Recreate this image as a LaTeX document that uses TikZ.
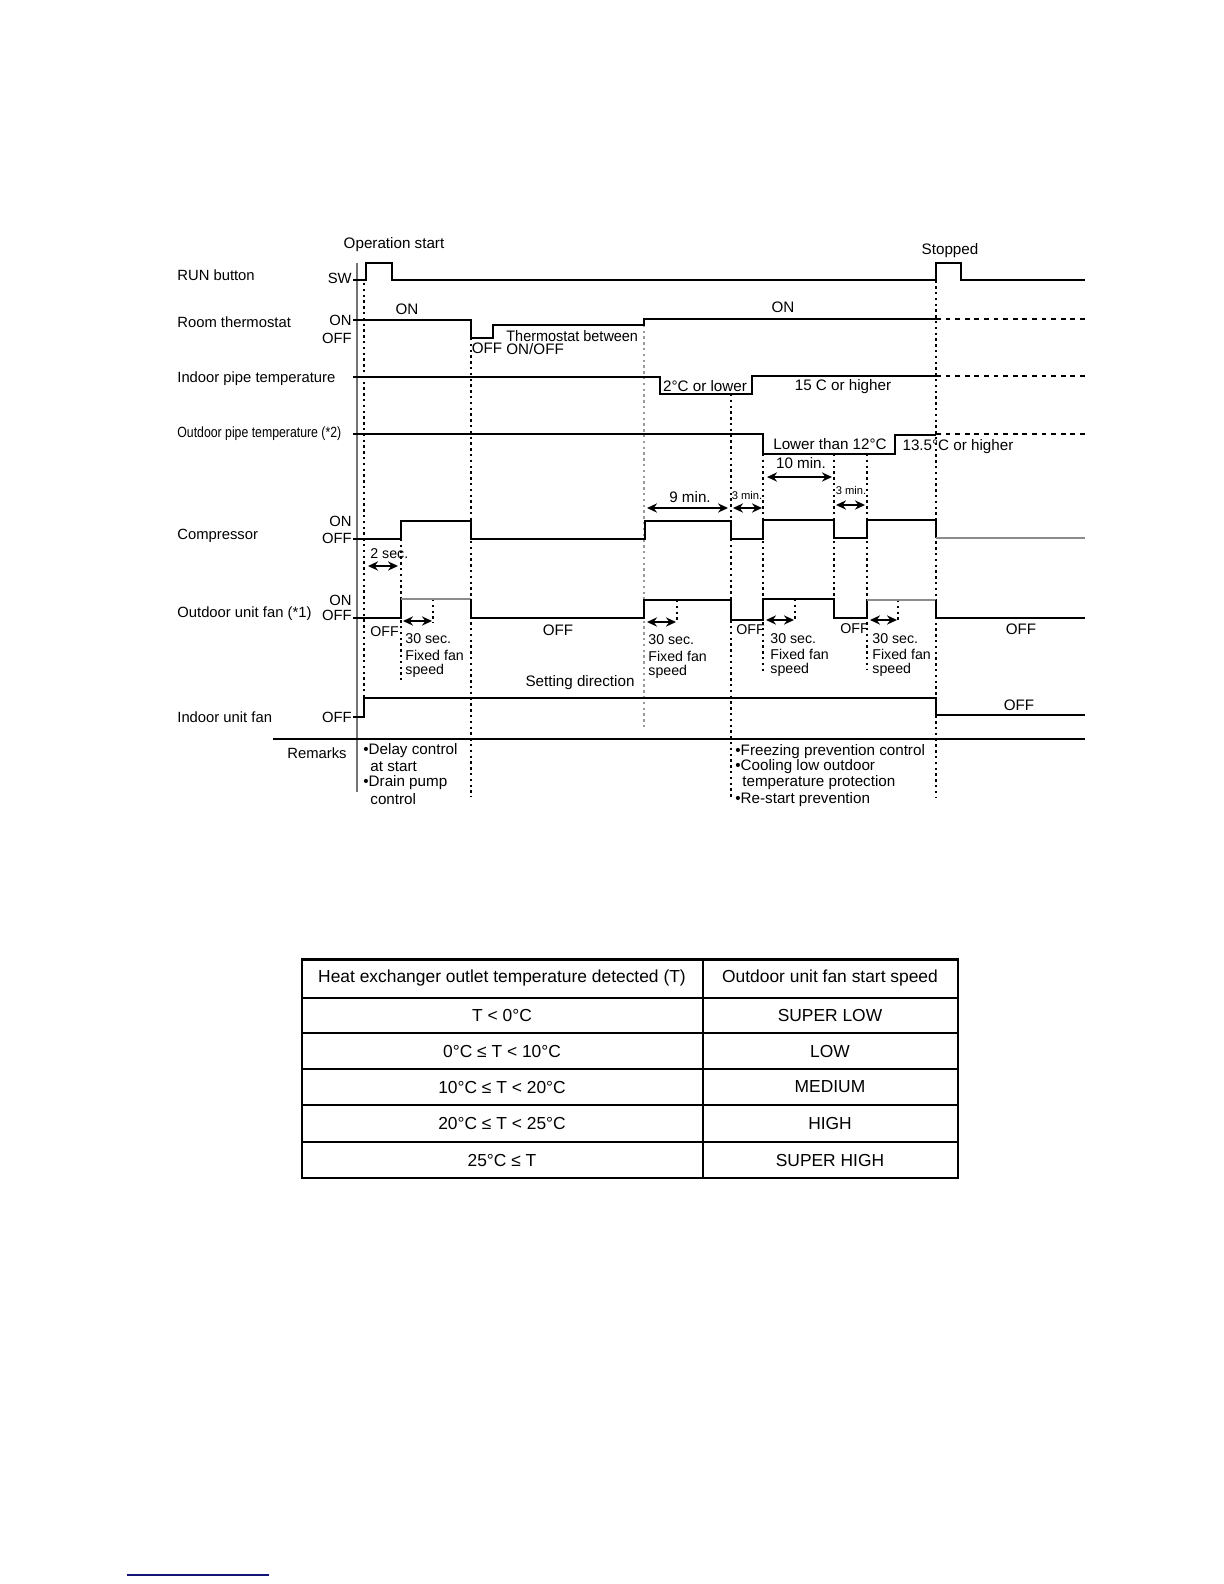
\documentclass[tikz,border=0pt]{standalone}
\usepackage{fontspec}
\setmainfont{Liberation Sans}
\usetikzlibrary{arrows.meta}
\begin{document}
\begin{tikzpicture}[x=0.5pt,y=-0.5pt,
  sig/.style={line width=1pt},
  gsig/.style={line width=1pt, draw=black!45},
  vdot/.style={line width=1pt, dash pattern=on 1.2pt off 1.7pt},
  gdot/.style={vdot, draw=black!40},
  hdash/.style={line width=0.9pt, dash pattern=on 2.4pt off 2.4pt},
  dim/.style={line width=0.9pt, {Stealth[length=5pt,width=4.6pt]}-{Stealth[length=5pt,width=4.6pt]}},
  txt/.style={font=\fontsize{7.6}{8}\selectfont, inner sep=0pt},
  sm/.style={font=\fontsize{7.1}{8}\selectfont, inner sep=0pt, anchor=west},
  tiny/.style={font=\fontsize{5.6}{6}\selectfont, inner sep=0pt},
  lab/.style={font=\fontsize{7.4}{8}\selectfont, inner sep=0pt, anchor=west},
  rlab/.style={font=\fontsize{7.4}{8}\selectfont, inner sep=0pt, anchor=east},
  ltxt/.style={txt, anchor=west},
  tab/.style={font=\fontsize{8.7}{10}\selectfont, inner sep=0pt},
]
\useasboundingbox (0,0) rectangle (1224,1584);

% ---------- axis ----------
\draw[line width=1.4pt, black!55] (357,263) -- (357,792);

% ---------- row labels ----------
\node[lab] (lrun) at (177,275) {RUN button};
\node[rlab] (lsw) at (352,278) {SW};
\node[lab] (lroom) at (177,322) {Room thermostat};
\node[rlab] (lroomon) at (352,320) {ON};
\node[rlab] (lroomoff) at (352,338) {OFF};
\node[lab] (lindoor) at (177,379) {Indoor pipe temperature};
\node[lab] (loutdoor) at (177,434) {\scalebox{0.83}[1]{Outdoor pipe temperature (*2)}};
\node[lab] (lcomp) at (177,536) {Compressor};
\node[rlab] (lcompon) at (352,521) {ON};
\node[rlab] (lcompoff) at (352,538) {OFF};
\node[lab] (lofan) at (177,614) {Outdoor unit fan (*1)};
\node[rlab] (lofanon) at (352,600) {ON};
\node[rlab] (lofanoff) at (352,615) {OFF};
\node[lab] (lifan) at (177,717) {Indoor unit fan};
\node[rlab] (lifanoff) at (352,717) {OFF};
\node[rlab] (lrem) at (347,753) {Remarks};

% ---------- dotted verticals ----------
\draw[vdot] (364,283) -- (364,698);
\draw[vdot] (471,338) -- (471,797);
\draw[gdot] (644,319) -- (644,728);
\draw[vdot] (731,394) -- (731,797);
\draw[vdot] (763,454) -- (763,672);
\draw[vdot] (834,454) -- (834,599);
\draw[vdot] (867,454) -- (867,670);
\draw[vdot] (936,263) -- (936,797);
\draw[vdot] (401,539) -- (401,680);
\draw[vdot] (433,599) -- (433,623);
\draw[vdot] (677,600) -- (677,623);
\draw[vdot] (795,599) -- (795,621);
\draw[vdot] (898,600) -- (898,621);

% ---------- waveforms ----------
% RUN button
\draw[sig] (353,280) -- (366,280) -- (366,263) -- (392,263) -- (392,280) -- (936,280)
  -- (936,263) -- (961,263) -- (961,280) -- (1085,280);
% Room thermostat
\draw[sig] (353,320) -- (471,320) -- (471,338) -- (493,338) -- (493,325) -- (644,325)
  -- (644,319) -- (936,319);
\draw[hdash] (936,319) -- (1085,319);
% Indoor pipe temperature
\draw[sig] (353,377) -- (660,377) -- (660,394) -- (752,394) -- (752,376) -- (936,376);
\draw[hdash] (936,376) -- (1085,376);
% Outdoor pipe temperature
\draw[sig] (353,434) -- (763,434) -- (763,454) -- (895,454) -- (895,435) -- (936,435);
\draw[hdash] (936,434) -- (1085,434);
% Compressor
\draw[sig] (353,539) -- (401,539) -- (401,521) -- (471,521) -- (471,539) -- (645,539)
  -- (645,521) -- (731,521) -- (731,539) -- (763,539) -- (763,520) -- (834,520)
  -- (834,538) -- (867,538) -- (867,520) -- (936,520) -- (936,538);
\draw[gsig] (936,538) -- (1085,538);
% Outdoor unit fan
\draw[sig] (353,618) -- (401,618) -- (401,599);
\draw[gsig] (401,599) -- (471,599);
\draw[sig] (471,599) -- (471,618) -- (644,618) -- (644,600) -- (731,600) -- (731,620)
  -- (763,620) -- (763,599) -- (834,599) -- (834,618) -- (867,618) -- (867,600);
\draw[gsig] (867,600) -- (936,600);
\draw[sig] (936,600) -- (936,618) -- (1085,618);
% Indoor unit fan
\draw[sig] (353,717) -- (364,717) -- (364,698) -- (936,698) -- (936,715) -- (1085,715);
% Remarks separator
\draw[sig] (273,739) -- (1085,739);

% ---------- dimension arrows ----------
\draw[dim] (368,566) -- (398,566);
\draw[dim] (647,508) -- (728,508);
\draw[dim] (733,508) -- (762,508);
\draw[dim] (767,477) -- (832,477);
\draw[dim] (836,505) -- (865,505);
\draw[dim] (403,621) -- (432,621);
\draw[dim] (647,622) -- (676,622);
\draw[dim] (766,620) -- (794,620);
\draw[dim] (870,620) -- (897,620);

% ---------- signal texts ----------
\node[txt] (topstart) at (394,245) {Operation start};
\node[txt] (tstopped) at (950,251) {Stopped};
\node[txt] (ton1) at (407,309) {ON};
\node[txt] (ton2) at (783,307) {ON};
\node[txt] (toff1) at (487,348) {OFF};
\node[ltxt] (tthermo1) at (506,336) {\scalebox{0.95}[1]{Thermostat between}};
\node[ltxt] (tthermo2) at (506,349) {ON/OFF};
\node[txt] (t2c) at (705,386) {2°C or lower};
\node[txt] (t15c) at (843,387) {15 C or higher};
\node[txt] (t12c) at (830,444) {Lower than 12°C};
\node[txt] (t135c) at (958,447) {13.5°C or higher};
\node[sm] (t2sec) at (370,554) {2 sec.};
\node[txt] (t9min) at (690,497) {9 min.};
\node[tiny] (t3min1) at (747,495) {3 min.};
\node[txt] (t10min) at (801,463) {10 min.};
\node[tiny] (t3min2) at (851,490) {3 min.};

% fan block texts
\node[sm] (toffa) at (370,632) {OFF};
\node[sm] (fa1) at (405,639) {30 sec.};
\node[sm] (fa2) at (405,655) {Fixed fan};
\node[sm] (fa3) at (405,671) {speed};
\node[txt] (toffb) at (558,630) {OFF};
\node[sm] (fb1) at (648,640) {30 sec.};
\node[sm] (fb2) at (648,656) {Fixed fan};
\node[sm] (fb3) at (648,672) {speed};
\node[sm] (toffc) at (736,630) {OFF};
\node[sm] (fc1) at (770,639) {30 sec.};
\node[sm] (fc2) at (770,654) {Fixed fan};
\node[sm] (fc3) at (770,670) {speed};
\node[sm] (toffd) at (840,629) {OFF};
\node[sm] (fd1) at (872,639) {30 sec.};
\node[sm] (fd2) at (872,654) {Fixed fan};
\node[sm] (fd3) at (872,670) {speed};
\node[txt] (toffe) at (1021,629) {OFF};
\node[txt] (tsetdir) at (580,683) {Setting direction};
\node[txt] (toffi) at (1019,705) {OFF};

% remarks
\node[ltxt] (r1) at (363,751) {•Delay control};
\node[ltxt] (r2) at (370,767) {at start};
\node[ltxt] (r3) at (363,783) {•Drain pump};
\node[ltxt] (r4) at (370,799) {control};
\node[ltxt] (r5) at (735,752) {•Freezing prevention control};
\node[ltxt] (r6) at (735,767) {•Cooling low outdoor};
\node[ltxt] (r7) at (742,783) {temperature protection};
\node[ltxt] (r8) at (735,800) {•Re-start prevention};

% ---------- table ----------
\draw[line width=1.5pt] (302,959) -- (958,959);
\draw[line width=1.1pt] (302,959) rectangle (958,1178);
\draw[line width=1.3pt] (302,998) -- (958,998);
\foreach \yy in {1033,1069,1105,1142} \draw[line width=1.1pt] (302,\yy) -- (958,\yy);
\draw[line width=1.1pt] (703,959) -- (703,1178);

\node[tab] (h1) at (502,978) {Heat exchanger outlet temperature detected (T)};
\node[tab] (h2) at (830,978) {Outdoor unit fan start speed};
\node[tab] (a1) at (502,1015) {T < 0°C};
\node[tab] (b1) at (830,1015) {SUPER LOW};
\node[tab] (a2) at (502,1051) {0°C ≤ T < 10°C};
\node[tab] (b2) at (830,1051) {LOW};
\node[tab] (a3) at (502,1087) {10°C ≤ T < 20°C};
\node[tab] (b3) at (830,1087) {MEDIUM};
\node[tab] (a4) at (502,1123) {20°C ≤ T < 25°C};
\node[tab] (b4) at (830,1123) {HIGH};
\node[tab] (a5) at (502,1160) {25°C ≤ T};
\node[tab] (b5) at (830,1160) {SUPER HIGH};

% footer line
\draw[line width=1pt, color={rgb,255:red,20;green,20;blue,120}] (127,1575) -- (269,1575);
\end{tikzpicture}
\end{document}
